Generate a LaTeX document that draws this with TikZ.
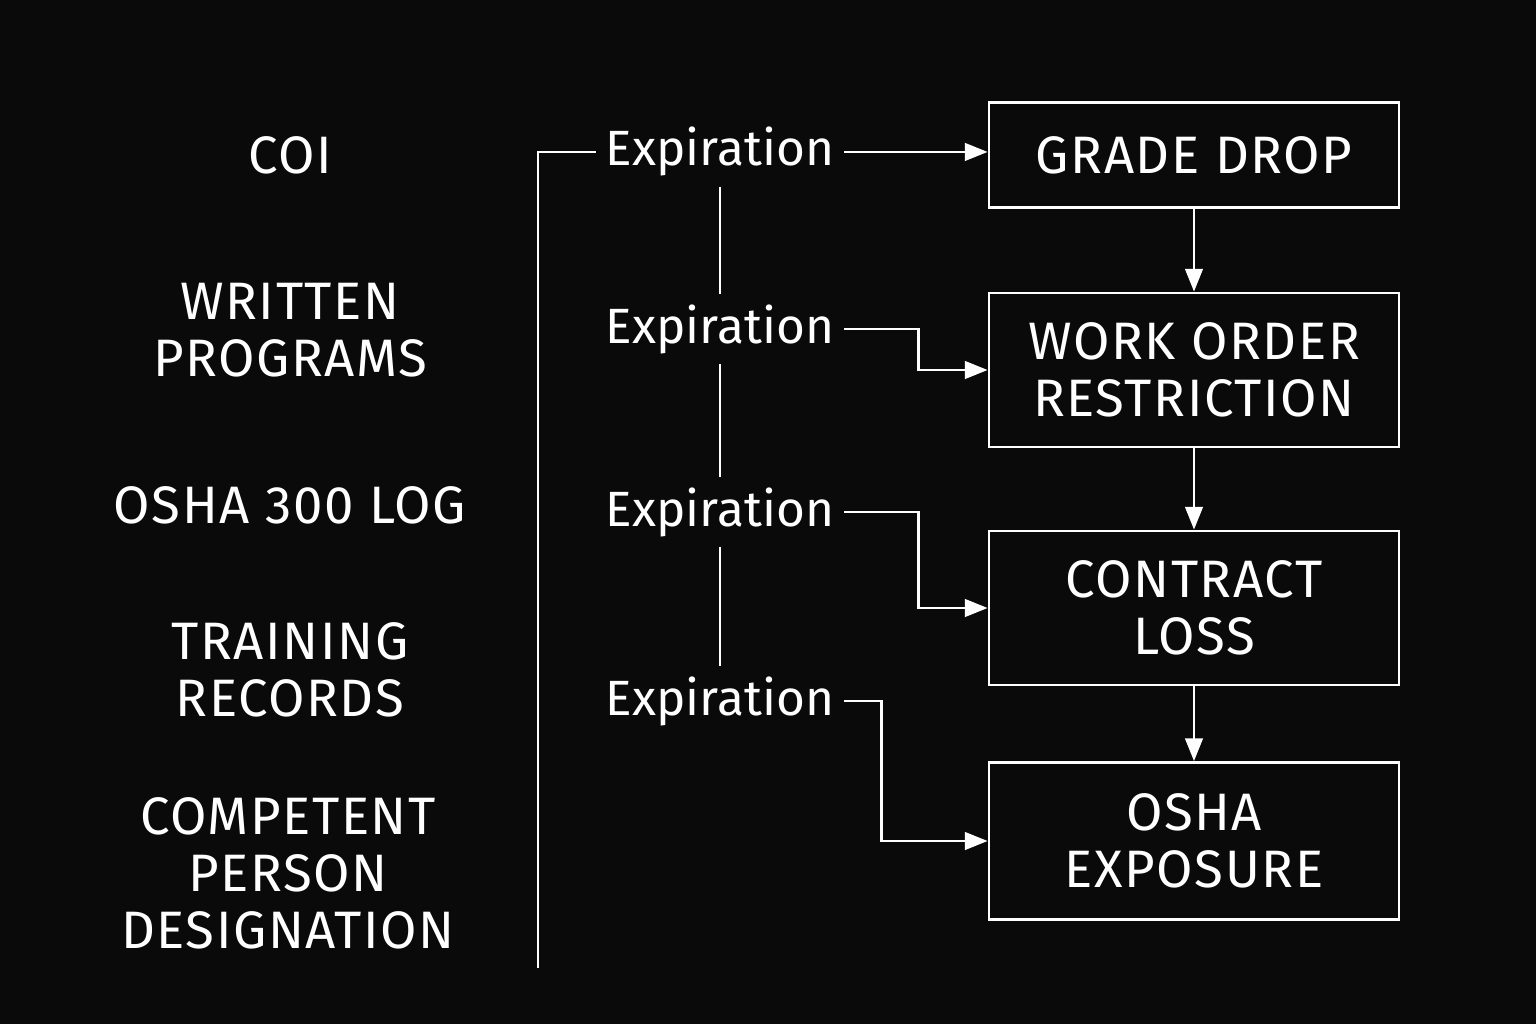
\documentclass[tikz,border=0pt]{standalone}
\usepackage{fontspec}
\setmainfont{Fira Sans}
\newfontfamily\capsfont[LetterSpace=3]{Fira Sans}
\usepackage{tikz}
\usetikzlibrary{arrows.meta}
\definecolor{bgblack}{HTML}{0A0A0A}
\tikzset{
        textnode/.style = {align=center, inner sep=0pt, text=white,
            font=\capsfont\fontsize{30}{32.5}\selectfont},
        lbl_n/.style = {textnode},
        exp_n/.style = {textnode, inner sep=5pt, anchor=base,
            font=\fontsize{28.2}{32}\selectfont},
        box_n/.style = {textnode, rectangle, draw=white, line width=1.6pt,
            minimum width=8.2cm, minimum height=3.08cm}
    }

\begin{document}
\begin{tikzpicture}[x=0.02cm, y=-0.02cm, line width=1.6pt, white,
            arr/.style={-{Triangle[length=13pt, width=10pt]}}]
            \fill[bgblack] (0,0) rectangle (1536,1024); % BACKGROUND
            % left column
            \node [lbl_n] (coi) at (290,155) {COI};
            \node [lbl_n] (wp)  at (290,330) {WRITTEN\\PROGRAMS};
            \node [lbl_n] (log) at (290,505) {OSHA 300 LOG};
            \node [lbl_n] (tr)  at (290,670) {TRAINING\\RECORDS};
            \node [lbl_n] (cp)  at (288,873) {COMPETENT\\PERSON\\DESIGNATION};
            % expiration labels
            \node [exp_n] (exp1) at (720,166) {Expiration};
            \node [exp_n] (exp2) at (720,343) {Expiration};
            \node [exp_n] (exp3) at (720,526) {Expiration};
            \node [exp_n] (exp4) at (720,715) {Expiration};
            % consequence boxes
            \node [box_n, minimum height=2.1cm] (grade) at (1194,155) {GRADE DROP};
            \node [box_n] (work) at (1194,370) {WORK ORDER\\RESTRICTION};
            \node [box_n] (loss) at (1194,608) {CONTRACT\\LOSS};
            \node [box_n, minimum height=3.14cm] (osha) at (1194,841) {OSHA\\EXPOSURE};
            \coordinate (bot) at (538,968);
            \draw (exp1.west) -| (bot);
            \draw (exp1) -- (exp2) -- (exp3) -- (exp4);
            \draw [arr] (exp1.east) -- (exp1.east -| grade.west);
            \draw [arr] (exp2.east) -- ++(74,0) |- (work.west);
            \draw [arr] (exp3.east) -- ++(74,0) |- (loss.west);
            \draw [arr] (exp4.east) -- ++(37,0) |- (osha.west);
            \draw [arr] (grade) -- (work);
            \draw [arr] (work) -- (loss);
            \draw [arr] (loss) -- (osha);
\end{tikzpicture}
\end{document}
